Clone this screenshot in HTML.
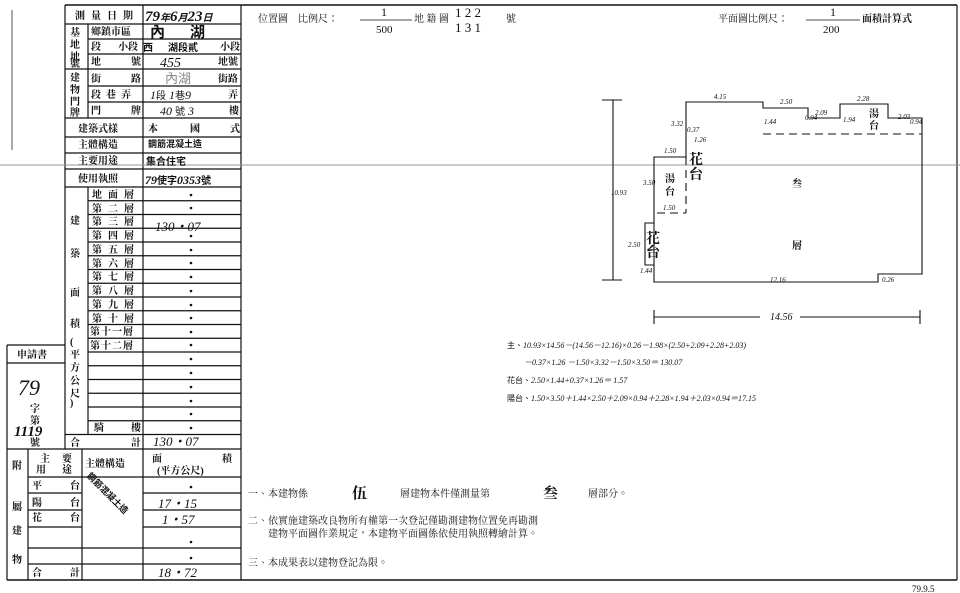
<!DOCTYPE html>
<html><head><meta charset="utf-8"><style>
html,body{margin:0;padding:0;background:#fff;width:960px;height:593px;overflow:hidden}
svg{display:block}
.l{font-family:"Liberation Serif","Noto Serif CJK TC",serif;font-size:10px;fill:#111;font-weight:bold}
.h{font-family:"Liberation Serif","Noto Sans CJK TC",serif;font-style:italic;fill:#111}
.n{font-family:"Liberation Serif","Noto Serif CJK TC",serif;fill:#111}
</style></head><body>
<svg width="960" height="593" viewBox="0 0 960 593" xmlns="http://www.w3.org/2000/svg">
<g stroke="#111" stroke-width="1.2" fill="none">
<line x1="65" y1="5" x2="957" y2="5" stroke-width="1.6"/>
<line x1="957" y1="5" x2="957" y2="580"/>
<line x1="7" y1="580" x2="957" y2="580" stroke-width="1.6"/>
<line x1="241" y1="5" x2="241" y2="580"/>
<line x1="65" y1="5" x2="65" y2="449"/>
<line x1="88" y1="24" x2="88" y2="118"/>
<line x1="88" y1="187" x2="88" y2="434"/>
<line x1="143" y1="5" x2="143" y2="449"/>
<line x1="65" y1="24" x2="241" y2="24"/>
<line x1="88" y1="39" x2="241" y2="39"/>
<line x1="88" y1="54" x2="241" y2="54"/>
<line x1="65" y1="69" x2="241" y2="69"/>
<line x1="88" y1="86" x2="241" y2="86"/>
<line x1="88" y1="102" x2="241" y2="102"/>
<line x1="65" y1="118" x2="241" y2="118"/>
<line x1="65" y1="137" x2="241" y2="137"/>
<line x1="65" y1="153" x2="241" y2="153"/>
<line x1="65" y1="169" x2="241" y2="169"/>
<line x1="65" y1="187" x2="241" y2="187"/>
<line x1="88" y1="200.75" x2="241" y2="200.75"/>
<line x1="88" y1="214.5" x2="241" y2="214.5"/>
<line x1="88" y1="228.25" x2="241" y2="228.25"/>
<line x1="88" y1="242" x2="241" y2="242"/>
<line x1="88" y1="255.75" x2="241" y2="255.75"/>
<line x1="88" y1="269.5" x2="241" y2="269.5"/>
<line x1="88" y1="283.25" x2="241" y2="283.25"/>
<line x1="88" y1="297" x2="241" y2="297"/>
<line x1="88" y1="310.75" x2="241" y2="310.75"/>
<line x1="88" y1="324.5" x2="241" y2="324.5"/>
<line x1="88" y1="338.25" x2="241" y2="338.25"/>
<line x1="88" y1="352" x2="241" y2="352"/>
<line x1="88" y1="365.75" x2="241" y2="365.75"/>
<line x1="88" y1="379.5" x2="241" y2="379.5"/>
<line x1="88" y1="393.25" x2="241" y2="393.25"/>
<line x1="88" y1="407" x2="241" y2="407"/>
<line x1="88" y1="420.75" x2="241" y2="420.75"/>
<line x1="65" y1="434.5" x2="241" y2="434.5"/>
<line x1="7" y1="449" x2="241" y2="449"/>
<line x1="7" y1="345" x2="65" y2="345"/>
<line x1="7" y1="363" x2="65" y2="363"/>
<line x1="7" y1="345" x2="7" y2="580"/>
<line x1="28" y1="449" x2="28" y2="580"/>
<line x1="82" y1="449" x2="82" y2="580"/>
<line x1="143" y1="449" x2="143" y2="580"/>
<line x1="28" y1="477" x2="241" y2="477"/>
<line x1="28" y1="493" x2="82" y2="493"/><line x1="143" y1="493" x2="241" y2="493"/>
<line x1="28" y1="510" x2="82" y2="510"/><line x1="143" y1="510" x2="241" y2="510"/>
<line x1="28" y1="527" x2="82" y2="527"/><line x1="143" y1="527" x2="241" y2="527"/>
<line x1="28" y1="548" x2="241" y2="548"/>
<line x1="28" y1="564" x2="241" y2="564"/>
</g>
<line x1="0" y1="165" x2="960" y2="165" stroke="#999" stroke-width="1"/>
<line x1="12" y1="10" x2="12" y2="150" stroke="#555" stroke-width="1"/>

<g class="l">
<text x="75" y="19" letter-spacing="6">測量日期</text>
<text x="70" y="36">基</text><text x="70" y="48">地</text><text x="70" y="60">地</text><text x="70" y="67">號</text>
<text x="91" y="35">鄉鎮市區</text>
<text x="91" y="50">段</text><text x="118" y="50">小段</text>
<text x="91" y="65">地</text><text x="131" y="65">號</text>
<text x="70" y="81">建</text><text x="70" y="93">物</text><text x="70" y="105">門</text><text x="70" y="116">牌</text>
<text x="91" y="82">街</text><text x="131" y="82">路</text>
<text x="91" y="98" letter-spacing="5">段巷弄</text>
<text x="91" y="114">門</text><text x="131" y="114">牌</text>
<text x="78" y="132">建築式樣</text>
<text x="78" y="148">主體構造</text>
<text x="78" y="164">主要用途</text>
<text x="78" y="182">使用執照</text>
<text x="92" y="198" letter-spacing="6">地面層</text>
<text x="92" y="212" letter-spacing="6">第二層</text>
<text x="92" y="225" letter-spacing="6">第三層</text>
<text x="92" y="239" letter-spacing="6">第四層</text>
<text x="92" y="253" letter-spacing="6">第五層</text>
<text x="92" y="267" letter-spacing="6">第六層</text>
<text x="92" y="280" letter-spacing="6">第七層</text>
<text x="92" y="294" letter-spacing="6">第八層</text>
<text x="92" y="308" letter-spacing="6">第九層</text>
<text x="92" y="322" letter-spacing="6">第十層</text>
<text x="90" y="335" letter-spacing="1">第十一層</text>
<text x="90" y="349" letter-spacing="1">第十二層</text>
<text x="94" y="431">騎</text><text x="131" y="431">樓</text>
<text x="70" y="446">合</text><text x="131" y="446">計</text>
<text x="70" y="224">建</text><text x="70" y="257">築</text><text x="70" y="296">面</text><text x="70" y="327">積</text>
<text x="70" y="345">(</text><text x="70" y="358">平</text><text x="70" y="371">方</text><text x="70" y="384">公</text><text x="70" y="397">尺</text><text x="70" y="406">)</text>
<text x="17" y="358">申請書</text>
<text x="30" y="412">字</text><text x="30" y="424">第</text>
<text x="30" y="446">號</text>
<text x="12" y="469">附</text><text x="12" y="510">屬</text><text x="12" y="534">建</text><text x="12" y="563">物</text>
<text x="40" y="462">主</text><text x="62" y="462">要</text>
<text x="36" y="473">用</text><text x="62" y="473">途</text>
<text x="85" y="467">主體構造</text>
<text x="152" y="462">面</text><text x="222" y="462">積</text>
<text x="157" y="474">(平方公尺)</text>
<text x="32" y="489">平</text><text x="70" y="489">台</text>
<text x="32" y="506">陽</text><text x="70" y="506">台</text>
<text x="32" y="521">花</text><text x="70" y="521">台</text>
<text x="32" y="576">合</text><text x="70" y="576">計</text>
<text x="218" y="65">地號</text>
<text x="218" y="82">街路</text>
<text x="228" y="98">弄</text><text x="229" y="114">樓</text>
<text x="220" y="50">小段</text>
<text x="148" y="132">本</text><text x="190" y="132">國</text><text x="230" y="132">式</text>
</g>
<g class="h">
<text x="145" y="21" font-size="15" font-weight="bold">79<tspan font-size="10">年</tspan>6<tspan font-size="10">月</tspan>23<tspan font-size="10">日</tspan></text>
<text x="150" y="37" font-size="15" font-style="normal" font-weight="bold">內</text><text x="190" y="37" font-size="15" font-style="normal" font-weight="bold">湖</text>
<text x="143" y="51" font-size="10" font-style="normal" font-weight="bold">西</text><text x="168" y="51" font-size="10" font-style="normal" font-weight="bold">湖段貳</text>
<text x="160" y="67" font-size="14">455</text>
<text x="165" y="83" font-size="13" fill="#888" font-style="normal">內湖</text>
<text x="150" y="99" font-size="12">1<tspan font-style="normal" font-size="10">段</tspan> 1<tspan font-style="normal" font-size="10">巷</tspan>9</text>
<text x="160" y="115" font-size="12">40 <tspan font-style="normal" font-size="10">號</tspan> 3</text>
<text x="148" y="147" font-size="9" font-style="normal" font-weight="bold">鋼筋混凝土造</text>
<text x="146" y="165" font-size="10" font-style="normal" font-weight="bold">集合住宅</text>
<text x="145" y="184" font-size="12" font-weight="bold">79<tspan font-size="10" font-style="normal">使字</tspan>0353<tspan font-size="10" font-style="normal">號</tspan></text>
<text x="155" y="231" font-size="13">130・07</text>
<text x="153" y="446" font-size="13">130・07</text>
<text x="158" y="508" font-size="13">17・15</text>
<text x="162" y="524" font-size="13">1・57</text>
<text x="158" y="577" font-size="13">18・72</text>
<text x="18" y="395" font-size="22">79</text>
<text x="14" y="436" font-size="15" font-weight="bold">1119</text>
<text x="84" y="482" font-size="9" font-style="normal" font-weight="bold" transform="rotate(45 92 482)">鋼筋混凝土造</text>
</g>
<g fill="#111">
<circle cx="191" cy="195" r="1.3"/><circle cx="191" cy="208" r="1.3"/><circle cx="191" cy="236" r="1.3"/>
<circle cx="191" cy="250" r="1.3"/><circle cx="191" cy="263" r="1.3"/><circle cx="191" cy="277" r="1.3"/>
<circle cx="191" cy="291" r="1.3"/><circle cx="191" cy="305" r="1.3"/><circle cx="191" cy="318" r="1.3"/>
<circle cx="191" cy="332" r="1.3"/><circle cx="191" cy="345" r="1.3"/><circle cx="191" cy="359" r="1.3"/>
<circle cx="191" cy="373" r="1.3"/><circle cx="191" cy="387" r="1.3"/><circle cx="191" cy="401" r="1.3"/>
<circle cx="191" cy="414" r="1.3"/><circle cx="191" cy="428" r="1.3"/>
<circle cx="191" cy="487" r="1.3"/><circle cx="191" cy="542" r="1.3"/><circle cx="191" cy="558" r="1.3"/>
</g>

<g class="n" font-size="10">
<text x="258" y="22">位置圖　比例尺：</text>
<line x1="360" y1="20" x2="412" y2="20" stroke="#111" stroke-width="0.8"/>
<text x="381" y="16" font-size="12">1</text>
<text x="376" y="33" font-size="11">500</text>
<text x="414" y="22">地 籍 圖</text>
<text x="455" y="17" font-size="13">1 2 2</text>
<text x="455" y="32" font-size="13">1 3 1</text>
<text x="506" y="22">號</text>
<text x="718" y="22">平面圖比例尺：</text>
<line x1="806" y1="20" x2="860" y2="20" stroke="#111" stroke-width="0.8"/>
<text x="830" y="16" font-size="12">1</text>
<text x="823" y="33" font-size="11">200</text>
<text x="862" y="22" font-weight="bold">面積計算式</text>
</g>

<g stroke="#111" stroke-width="1.1" fill="none">
<polyline points="686,157 686,102 763,102 763,108 808,108 808,118 840,118 840,104 888,104 888,118 922,118 922,274 878,274 878,282 654,282 654,157 686,157"/>
<polyline points="654,223 645,223 645,265 654,265"/>
<g stroke-dasharray="8,5">
<line x1="763" y1="134" x2="922" y2="134"/>
<line x1="686" y1="157" x2="686" y2="213"/>
<line x1="657" y1="213" x2="686" y2="213"/>
</g>
<line x1="613" y1="100" x2="613" y2="280"/>
<line x1="602" y1="100" x2="622" y2="100"/><line x1="602" y1="280" x2="622" y2="280"/>
<line x1="654" y1="317" x2="760" y2="317"/><line x1="800" y1="317" x2="920" y2="317"/>
<line x1="654" y1="310" x2="654" y2="324"/><line x1="920" y1="310" x2="920" y2="324"/>
</g>
<g class="h" font-size="7">
<text x="714" y="99">4.15</text><text x="780" y="104">2.50</text><text x="815" y="115">2.09</text>
<text x="857" y="101">2.28</text><text x="898" y="119">2.03</text>
<text x="764" y="124">1.44</text><text x="805" y="120">0.94</text><text x="843" y="122">1.94</text>
<text x="910" y="124">0.94</text><text x="671" y="126">3.32</text><text x="687" y="132">0.37</text>
<text x="694" y="142">1.26</text><text x="664" y="153">1.50</text><text x="643" y="185">3.50</text>
<text x="663" y="210">1.50</text><text x="628" y="247">2.50</text><text x="640" y="273">1.44</text>
<text x="611" y="195">10.93</text><text x="770" y="282">12.16</text><text x="882" y="282">0.26</text>
<text x="770" y="320" font-size="10">14.56</text>
</g>
<g class="l" font-size="10">
<text x="869" y="117">湯</text><text x="869" y="129">台</text>
<text x="665" y="182">湯</text><text x="665" y="195">台</text>
<text x="792" y="187">叁</text><text x="792" y="249">層</text>
<text x="689" y="164" font-size="14">花</text><text x="689" y="179" font-size="14">台</text>
<text x="646" y="243" font-size="14">花</text><text x="646" y="257" font-size="14">台</text>
</g>

<g class="h" font-size="8">
<text x="507" y="348"><tspan font-style="normal">主、</tspan>10.93×14.56－(14.56－12.16)×0.26－1.98×(2.50+2.09+2.28+2.03)</text>
<text x="524" y="365">－0.37×1.26 －1.50×3.32－1.50×3.50＝ 130.07</text>
<text x="507" y="383"><tspan font-style="normal">花台、</tspan>2.50×1.44+0.37×1.26＝ 1.57</text>
<text x="507" y="401"><tspan font-style="normal">陽台、</tspan>1.50×3.50＋1.44×2.50＋2.09×0.94＋2.28×1.94＋2.03×0.94＝17.15</text>
</g>

<g class="n" font-size="10">
<text x="248" y="497">一、本建物係</text>
<text x="352" y="498" font-size="15" font-weight="bold">伍</text>
<text x="400" y="497">層建物本件僅測量第</text>
<text x="543" y="498" font-size="15" font-weight="bold">叁</text>
<text x="588" y="497">層部分。</text>
<text x="248" y="524">二、依實施建築改良物所有權第一次登記僅勘測建物位置免再勘測</text>
<text x="268" y="537">建物平面圖作業規定，本建物平面圖係依使用執照轉繪計算。</text>
<text x="248" y="566">三、本成果表以建物登記為限。</text>
<text x="912" y="592" font-size="9">79.9.5</text>
</g>
</svg>
</body></html>
